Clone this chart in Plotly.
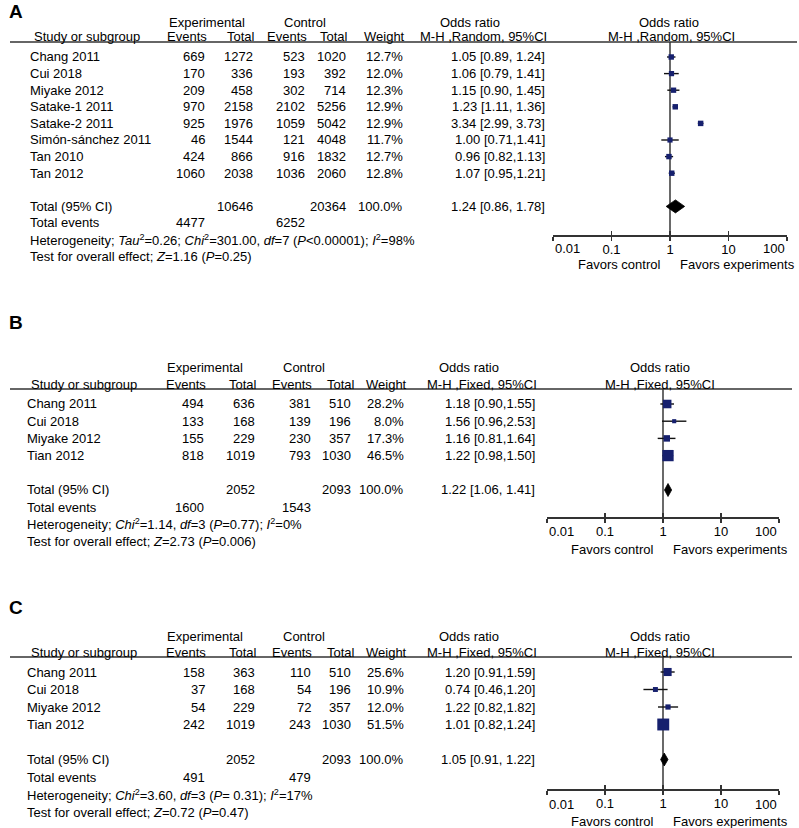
import math
import plotly.graph_objects as go

W, H = 799, 828

# ---------------- Panel A data ----------------
studies_a = ["Chang 2011", "Cui 2018", "Miyake 2012", "Satake-1 2011", "Satake-2 2011",
             "Simón-sánchez 2011", "Tan 2010", "Tan 2012"]
exp_events_a = [669, 170, 209, 970, 925, 46, 424, 1060]
exp_total_a = [1272, 336, 458, 2158, 1976, 1544, 866, 2038]
ctl_events_a = [523, 193, 302, 2102, 1059, 121, 916, 1036]
ctl_total_a = [1020, 392, 714, 5256, 5042, 4048, 1832, 2060]
weight_a = [12.7, 12.0, 12.3, 12.9, 12.9, 11.7, 12.7, 12.8]
or_a = [1.05, 1.06, 1.15, 1.23, 3.34, 1.00, 0.96, 1.07]
lo_a = [0.89, 0.79, 0.90, 1.11, 2.99, 0.71, 0.82, 0.95]
hi_a = [1.24, 1.41, 1.45, 1.36, 3.73, 1.41, 1.13, 1.21]
ci_text_a = ["1.05 [0.89, 1.24]", "1.06 [0.79, 1.41]", "1.15 [0.90, 1.45]", "1.23 [1.11, 1.36]",
             "3.34 [2.99, 3.73]", "1.00 [0.71,1.41]", "0.96 [0.82,1.13]", "1.07 [0.95,1.21]"]
total_a = [10646, 20364]
events_a = [4477, 6252]
pooled_a = [1.24, 0.86, 1.78]
pooled_text_a = "1.24 [0.86, 1.78]"
het_a = "Heterogeneity; <i>Tau</i><sup>2</sup>=0.26; <i>Chi</i><sup>2</sup>=301.00, <i>df</i>=7 (<i>P</i>&lt;0.00001); <i>I</i><sup>2</sup>=98%"
test_a = "Test for overall effect; <i>Z</i>=1.16 (<i>P</i>=0.25)"
method_a = "M-H ,Random, 95%CI"

# ---------------- Panel B data ----------------
studies_b = ["Chang 2011", "Cui 2018", "Miyake 2012", "Tian 2012"]
exp_events_b = [494, 133, 155, 818]
exp_total_b = [636, 168, 229, 1019]
ctl_events_b = [381, 139, 230, 793]
ctl_total_b = [510, 196, 357, 1030]
weight_b = [28.2, 8.0, 17.3, 46.5]
or_b = [1.18, 1.56, 1.16, 1.22]
lo_b = [0.90, 0.96, 0.81, 0.98]
hi_b = [1.55, 2.53, 1.64, 1.50]
ci_text_b = ["1.18 [0.90,1.55]", "1.56 [0.96,2.53]", "1.16 [0.81,1.64]", "1.22 [0.98,1.50]"]
total_b = [2052, 2093]
events_b = [1600, 1543]
pooled_b = [1.22, 1.06, 1.41]
pooled_text_b = "1.22 [1.06, 1.41]"
het_b = "Heterogeneity; <i>Chi</i><sup>2</sup>=1.14, <i>df</i>=3 (<i>P</i>=0.77); <i>I</i><sup>2</sup>=0%"
test_b = "Test for overall effect; <i>Z</i>=2.73 (<i>P</i>=0.006)"
method_b = "M-H ,Fixed, 95%CI"

# ---------------- Panel C data ----------------
studies_c = ["Chang 2011", "Cui 2018", "Miyake 2012", "Tian 2012"]
exp_events_c = [158, 37, 54, 242]
exp_total_c = [363, 168, 229, 1019]
ctl_events_c = [110, 54, 72, 243]
ctl_total_c = [510, 196, 357, 1030]
weight_c = [25.6, 10.9, 12.0, 51.5]
or_c = [1.20, 0.74, 1.22, 1.01]
lo_c = [0.91, 0.46, 0.82, 0.82]
hi_c = [1.59, 1.20, 1.82, 1.24]
ci_text_c = ["1.20 [0.91,1.59]", "0.74 [0.46,1.20]", "1.22 [0.82,1.82]", "1.01 [0.82,1.24]"]
total_c = [2052, 2093]
events_c = [491, 479]
pooled_c = [1.05, 0.91, 1.22]
pooled_text_c = "1.05 [0.91, 1.22]"
het_c = "Heterogeneity; <i>Chi</i><sup>2</sup>=3.60, <i>df</i>=3 (<i>P</i>= 0.31); <i>I</i><sup>2</sup>=17%"
test_c = "Test for overall effect; <i>Z</i>=0.72 (<i>P</i>=0.47)"
method_c = "M-H ,Fixed, 95%CI"

axis_ticks = [0.01, 0.1, 1, 10, 100]
axis_tick_labels = ["0.01", "0.1", "1", "10", "100"]

# ---------------- layout positions (pixels) ----------------
pos_a = dict(letter_y=12, h1=22, h2=37, line=42, line_x1=797, row0=57, sp=16.6, axis=235,
             fx0=553, fx1=787, tick_y=248, fav_y=264, name_x=28,
             num_r=[207, 255, 307, 348, 405, 547],
             hdr=dict(exp=207, ctl=305, ev1=187, tot1=241, ev2=287, tot2=334, wt=384,
                      or1=470, mh1=483, or2=669, mh2=671))
pos_b = dict(letter_y=323, h1=367, h2=384, line=389, line_x1=792, row0=404, sp=17.2, axis=517,
             fx0=547, fx1=779, tick_y=531, fav_y=549, name_x=25,
             num_r=[206, 257, 313, 353, 406, 537],
             hdr=dict(exp=205, ctl=304, ev1=186, tot1=243, ev2=292, tot2=341, wt=386,
                      or1=469, mh1=482, or2=660, mh2=660))
pos_c = dict(letter_y=607, h1=636, h2=652, line=657, line_x1=792, row0=672, sp=17.5, axis=789,
             fx0=547, fx1=779, tick_y=804, fav_y=821, name_x=25,
             num_r=[207, 257, 313, 353, 406, 537],
             hdr=dict(exp=205, ctl=304, ev1=186, tot1=243, ev2=292, tot2=341, wt=386,
                      or1=469, mh1=482, or2=660, mh2=660))

FONT = "Liberation Sans, Arial, Helvetica, sans-serif"
TXT = "#000000"
LINE = "#333333"
NAVY = "#16206e"

fig = go.Figure()
annotations = []
shapes = []


def px(x):
    return x / W


def py(y):
    return 1 - y / H


def text(x, y, s, anchor="left", size=13, bold=False):
    annotations.append(dict(x=px(x), y=py(y), xref="paper", yref="paper", text=("<b>%s</b>" % s) if bold else s,
                            showarrow=False, xanchor=anchor, yanchor="middle",
                            font=dict(family=FONT, size=size, color=TXT)))


def build(k, letter, studies, ee, et, ce, ct, wt, est, lo, hi, ci_txt, tot, ev, pooled, pooled_txt,
          het, test, method, p):
    xa = "x" if k == 1 else "x%d" % k
    ya = "y" if k == 1 else "y%d" % k
    xo = "x%d" % (k + 3)
    n = len(studies)
    row_px = lambda i: p["row0"] + p["sp"] * i
    idx = lambda ypx: (ypx - p["row0"]) / p["sp"]

    # letter
    text(7, p["letter_y"], letter, size=19, bold=True)
    # header
    h = p["hdr"]
    text(h["exp"], p["h1"], "Experimental", "center")
    text(h["ctl"], p["h1"], "Control", "center")
    text(h["or1"], p["h1"], "Odds ratio", "center")
    text(h["or2"], p["h1"], "Odds ratio", "center")
    text(p["name_x"] + 4, p["h2"], "Study or subgroup", "left")
    text(h["ev1"], p["h2"], "Events", "center")
    text(h["tot1"], p["h2"], "Total", "center")
    text(h["ev2"], p["h2"], "Events", "center")
    text(h["tot2"], p["h2"], "Total", "center")
    text(h["wt"], p["h2"], "Weight", "center")
    text(h["mh1"], p["h2"], method, "center")
    text(h["mh2"], p["h2"], method, "center")
    shapes.append(dict(type="line", xref="paper", yref="paper", x0=px(10), x1=px(p["line_x1"]),
                       y0=py(p["line"]), y1=py(p["line"]), line=dict(color=LINE, width=1.5)))
    r = p["num_r"]
    for i in range(n):
        y = row_px(i)
        text(p["name_x"], y, studies[i])
        text(r[0], y, str(ee[i]), "right")
        text(r[1], y, str(et[i]), "right")
        text(r[2], y, str(ce[i]), "right")
        text(r[3], y, str(ct[i]), "right")
        text(r[4], y, "%.1f%%" % wt[i], "right")
        text(r[5], y, ci_txt[i], "right")
    yt = row_px(n + 1)
    text(p["name_x"], yt, "Total (95% CI)")
    text(r[1], yt, str(tot[0]), "right")
    text(r[3], yt, str(tot[1]), "right")
    text(r[4], yt, "100.0%", "right")
    text(r[5], yt, pooled_txt, "right")
    ye = row_px(n + 2)
    text(p["name_x"], ye, "Total events")
    text(r[0], ye, str(ev[0]), "right")
    text(r[2], ye, str(ev[1]), "right")
    text(p["name_x"], row_px(n + 3), het)
    text(p["name_x"], row_px(n + 4), test)

    # forest marks
    ys = list(range(n))
    cx, cy = [], []
    for i in range(n):
        cx += [lo[i], hi[i], None]
        cy += [i, i, None]
    fig.add_trace(go.Scatter(x=[1, 1], y=[idx(p["line"]), idx(p["axis"])], mode="lines",
                             line=dict(color="#444444", width=1.6), xaxis=xa, yaxis=ya,
                             showlegend=False, hoverinfo="skip"))
    fig.add_trace(go.Scatter(x=cx, y=cy, mode="lines", line=dict(color="#111111", width=1.4),
                             xaxis=xa, yaxis=ya, showlegend=False, hoverinfo="skip"))
    fig.add_trace(go.Scatter(x=est, y=ys, mode="markers",
                             marker=dict(symbol="square", color=NAVY, opacity=1,
                                         size=[1.8 * math.sqrt(w) - 1.0 for w in wt],
                                         line=dict(width=0)),
                             xaxis=xa, yaxis=ya, showlegend=False))
    hd = 6.5 / p["sp"]
    yd = n + 1
    fig.add_trace(go.Scatter(x=[pooled[1], pooled[0], pooled[2], pooled[0], pooled[1]],
                             y=[yd, yd - hd, yd, yd + hd, yd], mode="lines", fill="toself",
                             fillcolor="#000000", line=dict(color="#000000", width=0.8),
                             xaxis=xa, yaxis=ya, showlegend=False, hoverinfo="skip"))
    fig.add_trace(go.Scatter(x=[1], y=[0], mode="markers", marker=dict(opacity=0),
                             xaxis=xo, yaxis=ya, showlegend=False, hoverinfo="skip"))

    axcommon = dict(type="log", range=[-2, 2], showgrid=False, zeroline=False,
                    tickvals=axis_ticks, ticklen=4, tickwidth=1.5, tickcolor=LINE, fixedrange=True)
    fig.layout[("xaxis" if k == 1 else "xaxis%d" % k)] = dict(
        axcommon, domain=[px(p["fx0"]), px(p["fx1"])], anchor=ya, showline=True,
        linecolor=LINE, linewidth=1.5, ticks="outside", ticklabelstandoff=-2,
        ticktext=[""] + axis_tick_labels[1:-1] + [""],
        tickfont=dict(family=FONT, size=13, color=TXT))
    fig.layout["xaxis%d" % (k + 3)] = dict(axcommon, overlaying=xa, anchor=ya, ticks="inside",
                                           showticklabels=False, showline=False)
    fig.layout[("yaxis" if k == 1 else "yaxis%d" % k)] = dict(
        domain=[py(p["axis"]), py(p["line"])], range=[idx(p["axis"]), idx(p["line"])],
        visible=False, fixedrange=True, anchor=xa)
    # end tick labels and favours text
    annotations.append(dict(x=-2, y=py(p["tick_y"]), xref=xa, yref="paper", text=axis_tick_labels[0],
                            showarrow=False, xanchor="left", yanchor="middle",
                            font=dict(family=FONT, size=13, color=TXT)))
    annotations.append(dict(x=2, y=py(p["tick_y"]), xref=xa, yref="paper", text=axis_tick_labels[-1],
                            showarrow=False, xanchor="right", yanchor="middle",
                            font=dict(family=FONT, size=13, color=TXT)))
    annotations.append(dict(x=0, y=py(p["fav_y"]), xref=xa, yref="paper", text="Favors control",
                            showarrow=False, xanchor="right", yanchor="middle", xshift=-8,
                            font=dict(family=FONT, size=13, color=TXT)))
    annotations.append(dict(x=0, y=py(p["fav_y"]), xref=xa, yref="paper", text="Favors experiments",
                            showarrow=False, xanchor="left", yanchor="middle", xshift=8,
                            font=dict(family=FONT, size=13, color=TXT)))


build(1, "A", studies_a, exp_events_a, exp_total_a, ctl_events_a, ctl_total_a, weight_a, or_a, lo_a, hi_a,
      ci_text_a, total_a, events_a, pooled_a, pooled_text_a, het_a, test_a, method_a, pos_a)
build(2, "B", studies_b, exp_events_b, exp_total_b, ctl_events_b, ctl_total_b, weight_b, or_b, lo_b, hi_b,
      ci_text_b, total_b, events_b, pooled_b, pooled_text_b, het_b, test_b, method_b, pos_b)
build(3, "C", studies_c, exp_events_c, exp_total_c, ctl_events_c, ctl_total_c, weight_c, or_c, lo_c, hi_c,
      ci_text_c, total_c, events_c, pooled_c, pooled_text_c, het_c, test_c, method_c, pos_c)

fig.update_layout(width=W, height=H, margin=dict(l=0, r=0, t=0, b=0), autosize=False,
                  paper_bgcolor="white", plot_bgcolor="white",
                  annotations=annotations, shapes=shapes,
                  font=dict(family=FONT, size=13, color=TXT))

fig.write_html("out.html", config={"displayModeBar": False, "staticPlot": True},
               post_script="document.body.style.margin='0px';")
